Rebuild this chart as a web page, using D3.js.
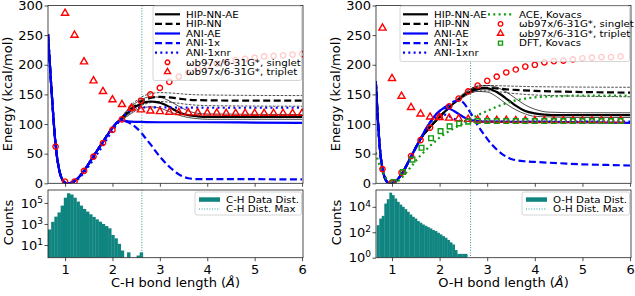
<!DOCTYPE html>
<html>
<head>
<meta charset="utf-8">
<script src="https://cdn.jsdelivr.net/npm/d3@7"></script>
<style>
  body { margin: 0; background: #fff; }
  text { font-family: "DejaVu Sans", sans-serif; fill: #000; }
</style>
</head>
<body>
<svg id="fig" width="635" height="296"></svg>
<script>
// ---------- data ----------
// reference points (every 0.2 A)
const grid = [0.8,1.0,1.2,1.4,1.6,1.8,2.0,2.2,2.4,2.6,2.8,3.0,3.2,3.4,3.6,3.8,4.0,4.2,4.4,4.6,4.8,5.0,5.2,5.4,5.6,5.8,6.0];

// C-H panel
const chSinglet = [62,3,3,21,45,68,90,108,127,139,150,161,171,180,187,193,198,202,205,208,210,212,214,215,216,217,218];
const chTriplet = [null,287,250,205,173,155,141,133,127,124,122,121,120,119.5,119,119,118.5,118.5,118,118,118,118,118,118,118,118,118];

const chAniAE = [[0.64,252],[0.68,200],[0.72,150],[0.76,105],[0.8,65],[0.85,35],[0.9,15],[0.95,5],[1.0,1],[1.05,0],[1.1,0.5],[1.2,4],[1.3,11],[1.4,21],[1.5,33],[1.6,46],[1.7,58],[1.8,70],[1.9,82],[2.0,94],[2.1,103],[2.2,106],[2.3,105],[2.4,104],[2.6,103.5],[3,103],[4,103],[5,102.5],[6,102]];
const chAni1x = [[0.64,252],[0.68,200],[0.72,150],[0.76,105],[0.8,65],[0.85,35],[0.9,15],[0.95,5],[1.0,1],[1.05,0],[1.1,0.5],[1.2,4],[1.3,11],[1.4,21],[1.5,33],[1.6,46],[1.7,58],[1.8,70],[1.9,82],[2.0,94],[2.1,103],[2.2,106],[2.3,104],[2.4,100],[2.5,94],[2.6,86],[2.7,76],[2.8,66],[2.9,55],[3.0,45],[3.1,36],[3.2,28],[3.3,21],[3.4,15],[3.5,11],[3.6,8.5],[3.7,7.5],[3.8,7],[4.5,7],[6,6.5]];
const chAni1xnr = [[0.64,252],[0.72,150],[0.8,65],[0.9,15],[1.0,1],[1.05,0],[1.1,0.5],[1.2,3],[1.3,9],[1.4,18],[1.5,29],[1.6,40],[1.7,52],[1.8,64],[1.9,77],[2.0,89],[2.1,100],[2.2,110],[2.3,118],[2.4,124],[2.5,127],[2.7,128],[3,128],[4,127.5],[6,127.5]];
const chHipAE = [[0.64,252],[0.72,150],[0.8,65],[0.9,15],[1.0,1],[1.05,0],[1.1,0.5],[1.2,4],[1.4,21],[1.6,46],[1.8,70],[2.0,94],[2.2,110],[2.4,124],[2.5,130],[2.6,134],[2.7,137],[2.8,138],[2.9,137.5],[3.0,136],[3.1,133],[3.2,129],[3.3,124],[3.4,120],[3.5,117],[3.6,115],[3.8,113],[4,112],[5,112],[6,112]];
const chHipNN = [[0.64,252],[0.72,150],[0.8,65],[0.9,15],[1.0,1],[1.05,0],[1.1,0.5],[1.2,4],[1.4,21],[1.6,46],[1.8,70],[2.0,94],[2.2,110],[2.4,126],[2.5,132],[2.6,138],[2.7,142],[2.8,144],[2.9,145.5],[3.0,146],[3.2,145],[3.4,143],[3.6,141],[4,140],[5,139.5],[6,139.5]];
const chHipAEHi = [[2.2,113],[2.4,130],[2.6,141],[2.8,146],[3.0,145],[3.2,139],[3.4,130],[3.6,122],[3.8,118],[4,117],[6,116]];
const chHipAELo = [[2.2,107],[2.4,118],[2.6,127],[2.8,129],[3.0,127],[3.2,121],[3.4,115],[3.6,111],[3.8,109],[4,108],[6,108]];
const chHipNNHi = [[2.2,112],[2.4,132],[2.6,145],[2.8,151],[3.0,153],[3.3,152],[3.6,150],[4,149],[6,148]];
const chHipNNLo = [[2.2,108],[2.4,120],[2.6,131],[2.8,136],[3.0,138],[3.3,136],[3.6,133],[4,131],[6,130]];
const chDistMax = 2.62;
// histogram: 30 bins from 0.64, width 0.0667
const chBinLo = 0.64, chBinW = 0.0667;
const chCounts = [300,1600,5000,12600,56000,316000,830000,630000,316000,135000,56000,27000,15000,8300,4700,2750,1650,1000,630,390,90,43,13,3,0,2,0,0,1,2];

// O-H panel
const ohSinglet = [24,1,18,46,73,94,112,130,143,155,165,173,180,187,192,197,200,204,206,207,209,211,212,213,213,214,null];
const ohTriplet = [262,177,147,128,117,112,111,110,109,108,107,107,106.5,106.5,106,106,106,106,106,106,106,106,106,106,106,106,null];
const ohDftX = [1.04,1.23,1.43,1.62,1.82,2.02,2.21,2.41,2.6,2.8,3.0,3.2,3.4,3.6,3.8,4.0,4.2,4.4,4.6,4.8,5.0,5.2,5.4,5.6,5.8];
const ohDft = [2,19,40,60,76,88,96,101,104,105,105,105,105,105,105,105,105,105,105,105,105,105,105,105,105];

const ohAniAE = [[0.66,172],[0.7,110],[0.75,55],[0.8,24],[0.85,9],[0.9,2],[0.95,0],[1.0,0.5],[1.05,2],[1.1,5],[1.2,15],[1.3,29],[1.4,45],[1.5,60],[1.6,75],[1.7,90],[1.8,103],[1.9,114],[2.0,122],[2.1,127],[2.2,126],[2.3,122],[2.4,117],[2.5,112],[2.6,108],[2.7,106],[2.8,105],[3.0,104],[4,103.5],[5,103],[6,102]];
const ohAni1x = [[0.66,172],[0.7,110],[0.75,55],[0.8,24],[0.85,9],[0.9,2],[0.95,0],[1.0,0.5],[1.05,2],[1.1,5],[1.2,15],[1.3,29],[1.4,45],[1.5,60],[1.6,75],[1.7,90],[1.8,103],[1.9,114],[2.0,122],[2.1,128],[2.2,133],[2.3,138],[2.4,140],[2.5,136],[2.6,125],[2.7,112],[2.8,98],[2.9,86],[3.0,75],[3.1,65],[3.2,57],[3.3,50],[3.4,45],[3.5,41],[3.6,39],[3.8,37],[4.0,36],[4.5,34],[5,32],[5.5,31],[6,30]];
const ohAni1xnr = [[0.66,172],[0.7,110],[0.75,55],[0.8,24],[0.85,9],[0.9,2],[0.95,0],[1.0,0.5],[1.05,2],[1.1,5],[1.2,15],[1.3,29],[1.4,45],[1.5,60],[1.6,75],[1.7,90],[1.8,102],[1.9,110],[2.0,115],[2.1,116],[2.2,113],[2.3,109],[2.4,106],[2.6,104.5],[3,104],[6,104]];
const ohHipAE = [[0.66,172],[0.75,55],[0.8,24],[0.9,2],[0.95,0],[1.0,0.5],[1.1,5],[1.2,15],[1.4,45],[1.6,75],[1.8,95],[2.0,112],[2.2,128],[2.4,142],[2.6,153],[2.8,159],[2.9,160],[3.0,160],[3.1,158],[3.2,154],[3.3,149],[3.4,143],[3.5,137],[3.6,131],[3.7,126],[3.8,122],[4.0,118],[4.2,116],[4.5,115],[5,115],[6,115]];
const ohHipNN = [[0.66,172],[0.75,55],[0.8,24],[0.9,2],[0.95,0],[1.0,0.5],[1.1,5],[1.2,15],[1.4,45],[1.6,75],[1.8,95],[2.0,112],[2.2,128],[2.4,142],[2.6,154],[2.8,161],[3.0,161],[3.5,158],[4,156],[5,154],[6,153]];
const ohHipAEHi = [[2.4,145],[2.6,157],[2.8,164],[3.0,165],[3.2,162],[3.4,154],[3.6,143],[3.8,132],[4.0,125],[4.3,120],[5,119],[6,119]];
const ohHipAELo = [[2.4,139],[2.6,150],[2.8,155],[3.0,154],[3.2,146],[3.4,134],[3.6,124],[3.8,117],[4.0,113],[4.3,112],[5,111],[6,111]];
const ohHipNNHi = [[2.6,157],[2.8,164],[3.0,165],[3.5,164],[4,163],[6,162]];
const ohHipNNLo = [[2.6,151],[2.8,156],[3.0,156],[3.5,152],[4,149],[6,146]];
const ohAce = [[0.66,52],[0.7,40],[0.8,20],[0.9,6],[1.0,0.5],[1.05,0],[1.1,2],[1.2,9],[1.4,28],[1.6,47],[1.8,63],[2.0,77],[2.2,88],[2.4,97],[2.6,106],[2.8,115],[3.0,122],[3.2,129],[3.4,135],[3.6,140],[3.8,143],[4.0,145],[4.5,147],[5,148],[6,148]];
const ohDistMax = 2.65;
// histogram: 36 bins from 0.68, width 0.0528
const ohBinLo = 0.68, ohBinW = 0.0528;
const ohCounts = [360,1200,1950,18000,40000,130000,83000,45000,24500,15000,10000,6600,4100,2500,1650,1200,760,560,410,320,250,200,150,123,91,68,50,37,25,16,11,4,2,2,2,2];

const energyTicks = [0,50,100,150,200,250,300];
const xTicks = [1,2,3,4,5,6];

// ---------- drawing ----------
const svg = d3.select("#fig");
const TEAL = "#108580";
const yE = d3.scaleLinear().domain([0, 300]).range([183.3, 5.5]);
const topY0 = 5.5, topY1 = 183.3, botY0 = 190, botY1 = 257.7;

// legend text: slightly wide, short glyphs like the reference
function legText(g, x, y, label, size) {
  return g.append("text").attr("transform", `translate(${x},${y}) scale(1.14,1)`)
    .attr("font-size", size + "px").text(label);
}

function drawPanel(cfg, idx) {
  const x = d3.scaleLinear().domain(cfg.xDomain).range([cfg.x0, cfg.x1]);
  const yH = d3.scaleLog().domain(cfg.hDomain).range([botY1, botY0]);

  const defs = svg.append("defs");
  defs.append("clipPath").attr("id", "clipT" + idx).append("rect")
    .attr("x", cfg.x0).attr("y", topY0).attr("width", cfg.x1 - cfg.x0).attr("height", topY1 - topY0);
  defs.append("clipPath").attr("id", "clipB" + idx).append("rect")
    .attr("x", cfg.x0).attr("y", botY0).attr("width", cfg.x1 - cfg.x0).attr("height", botY1 - botY0);

  const line = d3.line().defined(d => d[1] != null)
    .x(d => x(d[0])).y(d => yE(d[1])).curve(d3.curveMonotoneX);

  const top = svg.append("g").attr("clip-path", `url(#clipT${idx})`);

  // ensemble spread lines
  [[cfg.hipAEHi, null], [cfg.hipAELo, null], [cfg.hipNNHi, "2.6,1.4"], [cfg.hipNNLo, "2.6,1.4"]]
    .forEach(([d, dash]) => {
      top.append("path").datum(d).attr("d", line).attr("fill", "none")
        .attr("stroke", "#000").attr("stroke-width", 0.7).attr("stroke-dasharray", dash);
    });

  // main curves
  cfg.curves.forEach(c => {
    top.append("path").datum(c.data).attr("d", line).attr("fill", "none")
      .attr("stroke", c.color).attr("stroke-width", c.width)
      .attr("stroke-dasharray", c.dash);
  });

  // dist max
  top.append("line").attr("x1", x(cfg.distMax)).attr("x2", x(cfg.distMax))
    .attr("y1", topY0).attr("y2", topY1).attr("stroke", "#2a9a98")
    .attr("stroke-width", 1).attr("stroke-dasharray", "1,1.6");

  // markers
  cfg.markers.forEach(m => {
    const pts = m.x.map((xv, i) => [xv, m.y[i]]).filter(d => d[1] != null);
    top.append("g").selectAll("path").data(pts).join("path")
      .attr("transform", d => `translate(${x(d[0])},${yE(d[1])})`)
      .attr("d", d3.symbol(m.type, m.size))
      .attr("fill", "none").attr("stroke", m.color).attr("stroke-width", 1.4);
  });

  // histogram
  const bot = svg.append("g").attr("clip-path", `url(#clipB${idx})`);
  const bins = cfg.counts.map((c, i) => ({ lo: cfg.binLo + i * cfg.binW, hi: cfg.binLo + (i + 1) * cfg.binW, c }))
    .filter(b => b.c > 0);
  bot.selectAll("rect").data(bins).join("rect")
    .attr("x", b => x(b.lo)).attr("width", b => x(b.hi) - x(b.lo) + 0.3)
    .attr("y", b => yH(b.c)).attr("height", b => botY1 - yH(b.c))
    .attr("fill", TEAL);
  bot.append("line").attr("x1", x(cfg.distMax)).attr("x2", x(cfg.distMax))
    .attr("y1", botY0).attr("y2", botY1).attr("stroke", "#2a9a98")
    .attr("stroke-width", 1).attr("stroke-dasharray", "1,1.6");

  // axes
  const axT = svg.append("g").attr("transform", `translate(${cfg.x0},0)`)
    .call(d3.axisLeft(yE).tickValues(energyTicks).tickSize(3.5).tickPadding(1.5));
  const axTx = svg.append("g").attr("transform", `translate(0,${topY1})`)
    .call(d3.axisBottom(x).tickValues(xTicks).tickSize(3.5).tickFormat(""));
  const axB = svg.append("g").attr("transform", `translate(${cfg.x0},0)`)
    .call(d3.axisLeft(yH).tickValues(cfg.hTicks).tickSize(3.5).tickPadding(1.5).tickFormat(""));
  axB.selectAll(".tick text").each(function (d) {
    const t = d3.select(this);
    t.append("tspan").text("10");
    t.append("tspan").attr("dy", "-0.55em").attr("font-size", "9px").text(Math.round(Math.log10(d)));
  });
  const axBx = svg.append("g").attr("transform", `translate(0,${botY1})`)
    .call(d3.axisBottom(x).tickValues(xTicks).tickSize(3.5).tickPadding(3.5).tickFormat(d3.format("d")));
  [axT, axTx, axB, axBx].forEach(a => {
    a.select(".domain").remove();
    a.selectAll(".tick line").attr("stroke", "#222").attr("stroke-width", 0.8);
    a.selectAll(".tick text").attr("font-family", "DejaVu Sans").attr("font-size", "13px").attr("fill", "#000");
  });

  // spines
  [[topY0, topY1], [botY0, botY1]].forEach(([a, b]) => {
    svg.append("rect").attr("x", cfg.x0).attr("y", a).attr("width", cfg.x1 - cfg.x0).attr("height", b - a)
      .attr("fill", "none").attr("stroke", "#222").attr("stroke-width", 0.8);
  });

  // labels
  svg.append("text").attr("transform", `translate(${cfg.yLabX},94) rotate(-90)`)
    .attr("text-anchor", "middle").attr("dy", "0.35em").attr("font-size", "13px").text("Energy (kcal/mol)");
  svg.append("text").attr("transform", `translate(${cfg.yLabX + 1},222.5) rotate(-90)`)
    .attr("text-anchor", "middle").attr("dy", "0.35em").attr("font-size", "13px").text("Counts");
  const xl = svg.append("text").attr("x", (cfg.x0 + cfg.x1) / 2).attr("y", 287)
    .attr("text-anchor", "middle").attr("font-size", "13px");
  xl.append("tspan").text(cfg.bond + " bond length (");
  xl.append("tspan").attr("font-style", "italic").text("Å");
  xl.append("tspan").text(")");

  // legend (top)
  const lg = svg.append("g");
  lg.append("rect").attr("x", cfg.leg.x).attr("y", cfg.leg.y).attr("width", cfg.leg.w).attr("height", cfg.leg.h)
    .attr("rx", 2).attr("fill", "#fff").attr("fill-opacity", 0.8).attr("stroke", "#ccc").attr("stroke-width", 0.8);
  cfg.legItems.forEach(it => {
    const hx = it.hx, ry = it.ry;
    if (it.kind === "line") {
      lg.append("line").attr("x1", hx).attr("x2", hx + 25).attr("y1", ry).attr("y2", ry)
        .attr("stroke", it.color).attr("stroke-width", it.width).attr("stroke-dasharray", it.dash);
    } else {
      lg.append("path").attr("transform", `translate(${hx + 12.5},${ry})`)
        .attr("d", d3.symbol(it.type, it.size)).attr("fill", "none")
        .attr("stroke", it.color).attr("stroke-width", 1.4);
    }
    legText(lg, hx + 31, ry + 3.3, it.label, 9);
  });

  // legend (bottom)
  const bl = svg.append("g");
  bl.append("rect").attr("x", cfg.bleg.x).attr("y", 192).attr("width", cfg.bleg.w).attr("height", 23)
    .attr("rx", 2).attr("fill", "#fff").attr("fill-opacity", 0.8).attr("stroke", "#ccc").attr("stroke-width", 0.8);
  bl.append("rect").attr("x", cfg.bleg.x + 4).attr("y", 197.3).attr("width", 21).attr("height", 4.5).attr("fill", TEAL);
  bl.append("line").attr("x1", cfg.bleg.x + 4).attr("x2", cfg.bleg.x + 25).attr("y1", 209).attr("y2", 209)
    .attr("stroke", "#2a9a98").attr("stroke-width", 1).attr("stroke-dasharray", "1,1.6");
  legText(bl, cfg.bleg.x + 31, 202.7, cfg.bond + " Data Dist.", 9);
  legText(bl, cfg.bleg.x + 31, 212.3, cfg.bond + " Dist. Max", 9);
}

const styles = {
  hipAE: { color: "#000", width: 2.2, dash: null },
  hipNN: { color: "#000", width: 2.2, dash: "7,3.5" },
  aniAE: { color: "#0000ff", width: 2.2, dash: null },
  ani1x: { color: "#0000ff", width: 2.2, dash: "7,3.5" },
  ani1xnr: { color: "#0000ff", width: 2.2, dash: "2,3.3" },
  ace: { color: "#119911", width: 2.2, dash: "2,3.3" }
};
const singletLabel = "ωb97x/6-31G*, singlet", tripletLabel = "ωb97x/6-31G*, triplet";
const rowsY = [14.3, 23.9, 33.5, 43.1, 52.7, 62.3, 71.9];

// C-H
drawPanel({
  bond: "C-H", x0: 48, x1: 303, xDomain: [0.64, 6.02], hDomain: [0.62, 1.7e6], hTicks: [10, 1000, 100000],
  yLabX: 7, distMax: chDistMax, binLo: chBinLo, binW: chBinW, counts: chCounts,
  hipAEHi: chHipAEHi, hipAELo: chHipAELo, hipNNHi: chHipNNHi, hipNNLo: chHipNNLo,
  curves: [
    Object.assign({ data: chHipAE }, styles.hipAE), Object.assign({ data: chHipNN }, styles.hipNN),
    Object.assign({ data: chAniAE }, styles.aniAE), Object.assign({ data: chAni1x }, styles.ani1x),
    Object.assign({ data: chAni1xnr }, styles.ani1xnr)
  ],
  markers: [
    { x: grid, y: chSinglet, type: d3.symbolCircle, size: 22, color: "#ff0000" },
    { x: grid, y: chTriplet, type: d3.symbolTriangle, size: 22, color: "#ff0000" }
  ],
  leg: { x: 153, y: 6, w: 148.5, h: 74.5 },
  legItems: [
    Object.assign({ kind: "line", label: "HIP-NN-AE", hx: 155, ry: rowsY[0] }, styles.hipAE),
    Object.assign({ kind: "line", label: "HIP-NN", hx: 155, ry: rowsY[1] }, styles.hipNN),
    Object.assign({ kind: "line", label: "ANI-AE", hx: 155, ry: rowsY[2] }, styles.aniAE),
    Object.assign({ kind: "line", label: "ANI-1x", hx: 155, ry: rowsY[3] }, styles.ani1x),
    Object.assign({ kind: "line", label: "ANI-1xnr", hx: 155, ry: rowsY[4] }, styles.ani1xnr),
    { kind: "marker", label: singletLabel, hx: 155, ry: rowsY[5], type: d3.symbolCircle, size: 16, color: "#ff0000" },
    { kind: "marker", label: tripletLabel, hx: 155, ry: rowsY[6], type: d3.symbolTriangle, size: 16, color: "#ff0000" }
  ],
  bleg: { x: 195, w: 106.5 }
}, 0);

// O-H
drawPanel({
  bond: "O-H", x0: 376, x1: 631, xDomain: [0.664, 6.02], hDomain: [1, 2.1e5], hTicks: [1, 100, 10000],
  yLabX: 335, distMax: ohDistMax, binLo: ohBinLo, binW: ohBinW, counts: ohCounts,
  hipAEHi: ohHipAEHi, hipAELo: ohHipAELo, hipNNHi: ohHipNNHi, hipNNLo: ohHipNNLo,
  curves: [
    Object.assign({ data: ohHipAE }, styles.hipAE), Object.assign({ data: ohHipNN }, styles.hipNN),
    Object.assign({ data: ohAniAE }, styles.aniAE), Object.assign({ data: ohAni1x }, styles.ani1x),
    Object.assign({ data: ohAni1xnr }, styles.ani1xnr), Object.assign({ data: ohAce }, styles.ace)
  ],
  markers: [
    { x: grid, y: ohSinglet, type: d3.symbolCircle, size: 22, color: "#ff0000" },
    { x: grid, y: ohTriplet, type: d3.symbolTriangle, size: 22, color: "#ff0000" },
    { x: ohDftX, y: ohDft, type: d3.symbolSquare, size: 22, color: "#119911" }
  ],
  leg: { x: 400, y: 6, w: 229.5, h: 55.5 },
  legItems: [
    Object.assign({ kind: "line", label: "HIP-NN-AE", hx: 403, ry: rowsY[0] }, styles.hipAE),
    Object.assign({ kind: "line", label: "HIP-NN", hx: 403, ry: rowsY[1] }, styles.hipNN),
    Object.assign({ kind: "line", label: "ANI-AE", hx: 403, ry: rowsY[2] }, styles.aniAE),
    Object.assign({ kind: "line", label: "ANI-1x", hx: 403, ry: rowsY[3] }, styles.ani1x),
    Object.assign({ kind: "line", label: "ANI-1xnr", hx: 403, ry: rowsY[4] }, styles.ani1xnr),
    Object.assign({ kind: "line", label: "ACE, Kovacs", hx: 488, ry: rowsY[0] }, styles.ace),
    { kind: "marker", label: singletLabel, hx: 488, ry: rowsY[1], type: d3.symbolCircle, size: 16, color: "#ff0000" },
    { kind: "marker", label: tripletLabel, hx: 488, ry: rowsY[2], type: d3.symbolTriangle, size: 16, color: "#ff0000" },
    { kind: "marker", label: "DFT, Kovacs", hx: 488, ry: rowsY[3], type: d3.symbolSquare, size: 16, color: "#119911" }
  ],
  bleg: { x: 522, w: 107.5 }
}, 1);
</script>
</body>
</html>
